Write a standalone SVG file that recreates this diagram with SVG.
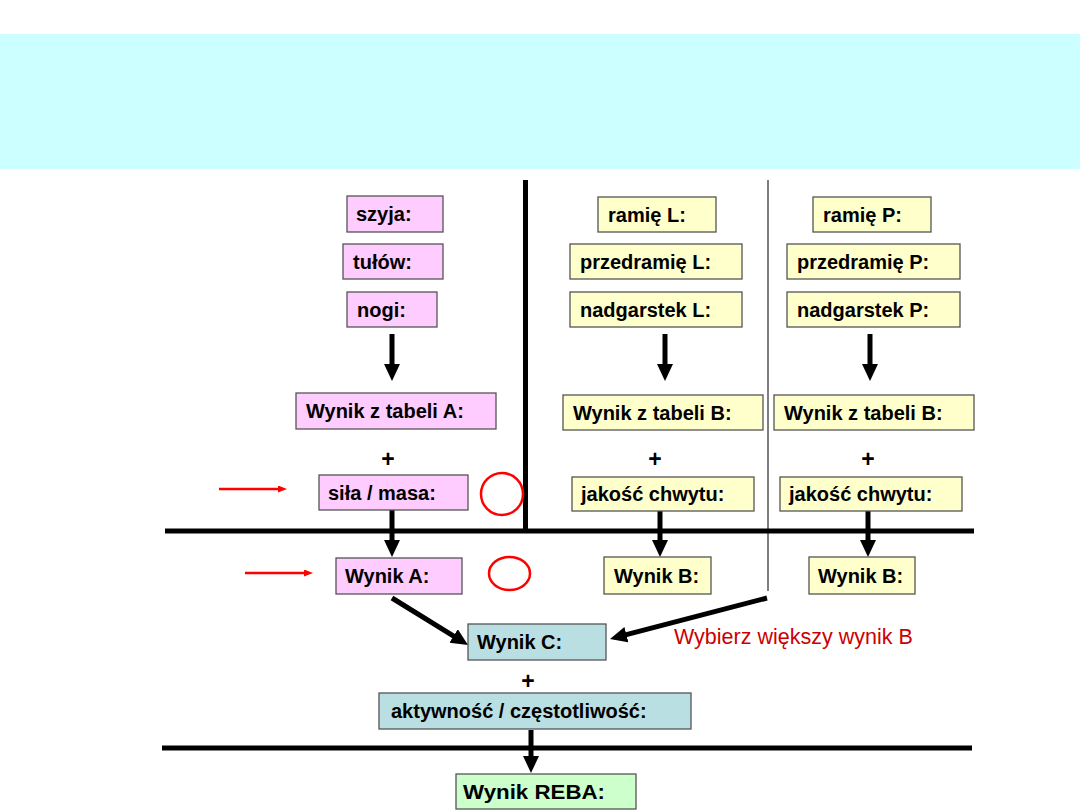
<svg xmlns="http://www.w3.org/2000/svg" width="1080" height="810" viewBox="0 0 1080 810">
<style>
.t{font-family:"Liberation Sans",Arial,sans-serif;font-size:20px;font-weight:bold;fill:#000}
.p{font-family:"Liberation Sans",Arial,sans-serif;font-size:23px;font-weight:bold;fill:#000}
.pk{fill:#FFCCFF;stroke:#555;stroke-width:1.3}
.yl{fill:#FFFFCC;stroke:#555;stroke-width:1.3}
.tl{fill:#BADFE2;stroke:#555;stroke-width:1.3}
.gr{fill:#CCFFCC;stroke:#555;stroke-width:1.3}
.ar{stroke:#000;stroke-width:5;fill:none;marker-end:url(#ah)}
.ra{stroke:#FF0000;stroke-width:2.5;fill:none;marker-end:url(#rh)}
.rc{fill:none;stroke:#FF0000;stroke-width:2.5}
.sep{stroke:#000;stroke-width:5}
</style>
<defs>
<marker id="ah" markerUnits="userSpaceOnUse" markerWidth="18" markerHeight="17" refX="2" refY="8" orient="auto">
<path d="M0,0 L17,8 L0,16 Z" fill="#000"/>
</marker>
<marker id="rh" markerUnits="userSpaceOnUse" markerWidth="10" markerHeight="8" refX="1" refY="3.5" orient="auto">
<path d="M0,0 L9,3.5 L0,7 Z" fill="#FF0000"/>
</marker>
</defs>
<rect x="0" y="34" width="1080" height="135" fill="#CCFFFF"/>
<g id="separators">
<line class="sep" x1="525.5" y1="180" x2="525.5" y2="531"/>
<line x1="768" y1="180" x2="768" y2="591" stroke="#555" stroke-width="1.5"/>
<line class="sep" x1="165" y1="531" x2="974" y2="531"/>
<line class="sep" x1="162" y1="748" x2="972" y2="748"/>
</g>
<g id="connectors">
<line class="ar" x1="392" y1="334" x2="392" y2="366"/>
<line class="ar" x1="665" y1="334" x2="665" y2="366"/>
<line class="ar" x1="870" y1="334" x2="870" y2="366"/>
<line class="ar" x1="392" y1="510" x2="392" y2="542"/>
<line class="ar" x1="660" y1="511" x2="660" y2="542"/>
<line class="ar" x1="868" y1="511" x2="868" y2="542"/>
<line class="ar" x1="531" y1="730" x2="531" y2="758"/>
<line class="ar" x1="392" y1="598" x2="455.3" y2="637.1"/>
<line class="ar" x1="767" y1="598" x2="624.5" y2="635.2"/>
<line class="ra" x1="219" y1="489" x2="279" y2="489"/>
<line class="ra" x1="245" y1="573" x2="305" y2="573"/>
</g>
<g id="marks">
<circle class="rc" cx="502" cy="494" r="21"/>
<ellipse class="rc" cx="509.5" cy="573.5" rx="20.5" ry="16.5"/>
<text class="p" x="388" y="467" text-anchor="middle">+</text>
<text class="p" x="655" y="467" text-anchor="middle">+</text>
<text class="p" x="868" y="467" text-anchor="middle">+</text>
<text class="p" x="528" y="689" text-anchor="middle">+</text>
<text x="674" y="644" font-family="Liberation Sans, Arial, sans-serif" font-size="21.5" fill="#CC0000">Wybierz większy wynik B</text>
</g>
<g id="szyja"><rect class="pk" x="347" y="196" width="96" height="36"/><text class="t" x="356" y="221">szyja:</text></g>
<g id="tulow"><rect class="pk" x="343" y="244" width="100" height="35"/><text class="t" x="353" y="268.5">tułów:</text></g>
<g id="nogi"><rect class="pk" x="347" y="292" width="90" height="35"/><text class="t" x="357" y="316.5">nogi:</text></g>
<g id="tabelaA"><rect class="pk" x="296" y="393" width="200" height="36"/><text class="t" x="306" y="418">Wynik z tabeli A:</text></g>
<g id="sila"><rect class="pk" x="319" y="475" width="149" height="35"/><text class="t" x="328" y="499.5">siła / masa:</text></g>
<g id="wynikA"><rect class="pk" x="336" y="558" width="126" height="36"/><text class="t" x="345" y="583">Wynik A:</text></g>
<g id="ramieL"><rect class="yl" x="598" y="197" width="118" height="35"/><text class="t" x="608" y="221.5">ramię L:</text></g>
<g id="przedramieL"><rect class="yl" x="570" y="244" width="172" height="35"/><text class="t" x="580" y="268.5">przedramię L:</text></g>
<g id="nadgarstekL"><rect class="yl" x="570" y="292" width="172" height="35"/><text class="t" x="580" y="316.5">nadgarstek L:</text></g>
<g id="tabelaBL"><rect class="yl" x="563" y="395" width="200" height="35"/><text class="t" x="573" y="419.5">Wynik z tabeli B:</text></g>
<g id="jakoscL"><rect class="yl" x="572" y="477" width="182" height="34"/><text class="t" x="581" y="501">jakość chwytu:</text></g>
<g id="wynikBL"><rect class="yl" x="604" y="557" width="107" height="37"/><text class="t" x="614" y="582.5">Wynik B:</text></g>
<g id="ramieP"><rect class="yl" x="813" y="197" width="118" height="35"/><text class="t" x="823" y="221.5">ramię P:</text></g>
<g id="przedramieP"><rect class="yl" x="787" y="244" width="173" height="35"/><text class="t" x="797" y="268.5">przedramię P:</text></g>
<g id="nadgarstekP"><rect class="yl" x="787" y="292" width="173" height="35"/><text class="t" x="797" y="316.5">nadgarstek P:</text></g>
<g id="tabelaBP"><rect class="yl" x="774" y="395" width="200" height="35"/><text class="t" x="784" y="419.5">Wynik z tabeli B:</text></g>
<g id="jakoscP"><rect class="yl" x="780" y="477" width="182" height="34"/><text class="t" x="789" y="501">jakość chwytu:</text></g>
<g id="wynikBP"><rect class="yl" x="809" y="557" width="106" height="37"/><text class="t" x="818" y="582.5">Wynik B:</text></g>
<g id="wynikC"><rect class="tl" x="468" y="624" width="138" height="36"/><text class="t" x="477" y="649">Wynik C:</text></g>
<g id="aktywnosc"><rect class="tl" x="379" y="693" width="312" height="36"/><text class="t" x="391" y="718">aktywność / częstotliwość:</text></g>
<g id="reba"><rect class="gr" x="456" y="774" width="180" height="35"/><text class="t" x="463" y="798.5" textLength="142" lengthAdjust="spacingAndGlyphs">Wynik REBA:</text></g>
</svg>
